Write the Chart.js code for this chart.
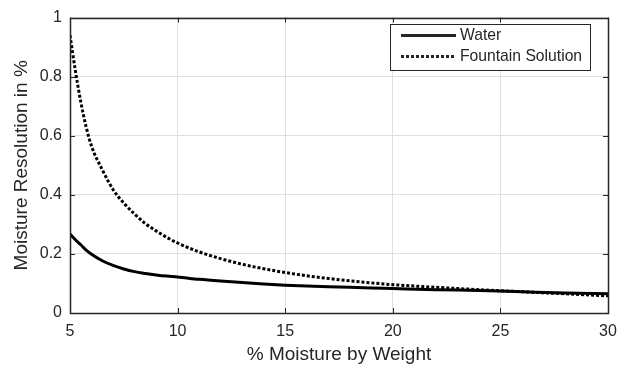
<!DOCTYPE html>
<html lang="en">
<head>
    <meta charset="UTF-8">
    <title>Moisture Resolution</title>
    <script src="https://cdn.jsdelivr.net/npm/chart.js"></script>
    <style>
        html, body { margin: 0; padding: 0; background: #fff; }
        #wrap { width: 632px; height: 372px; }
    </style>
</head>
<body>
    <div id="wrap"><canvas id="moistureChart" width="632" height="372"></canvas></div>

    <script>
        // % moisture by weight (x) and the resolution
        const moisture = [5, 5.25, 5.5, 5.75, 6, 6.5, 7, 7.5, 8, 8.5, 9, 9.5, 10, 11, 12, 13, 14, 15, 16, 17, 18, 19, 20, 22, 24, 26, 28, 30];
        const water = [0.267, 0.248, 0.231, 0.213, 0.199, 0.177, 0.161, 0.149, 0.140, 0.134, 0.129, 0.125, 0.122, 0.114, 0.108, 0.103, 0.098, 0.094, 0.091, 0.089, 0.087, 0.085, 0.083, 0.079, 0.076, 0.072, 0.068, 0.065];
        const fountain = [0.94, 0.82, 0.715, 0.63, 0.565, 0.485, 0.418, 0.372, 0.335, 0.303, 0.278, 0.256, 0.237, 0.207, 0.184, 0.165, 0.150, 0.137, 0.126, 0.117, 0.109, 0.102, 0.096, 0.087, 0.079, 0.072, 0.065, 0.058];
        const seriesNames = ['Water', 'Fountain Solution'];
        const xTicks = [5, 10, 15, 20, 25, 30];
        const yTicks = [0, 0.2, 0.4, 0.6, 0.8, 1];

        const ink = '#262626';
        const fontFamily = 'Arial, "Liberation Sans", Helvetica, sans-serif';

        function pts(ys) {
            return moisture.map((x, i) => ({ x: x, y: ys[i] }));
        }

        // MATLAB-ish box, inward ticks and an inset legend
        const axesBox = {
            id: 'axesBox',
            afterDraw(chart) {
                const ctx = chart.ctx;
                const a = chart.chartArea;
                const xs = chart.scales.x, ys = chart.scales.y;
                const tl = 5;
                ctx.save();
                ctx.strokeStyle = ink;
                ctx.lineWidth = 1;
                ctx.beginPath();
                xTicks.forEach(v => {
                    const px = Math.round(xs.getPixelForValue(v)) + 0.5;
                    ctx.moveTo(px, a.bottom); ctx.lineTo(px, a.bottom - tl);
                    ctx.moveTo(px, a.top); ctx.lineTo(px, a.top + tl);
                });
                yTicks.forEach(v => {
                    const py = Math.round(ys.getPixelForValue(v)) + 0.5;
                    ctx.moveTo(a.left, py); ctx.lineTo(a.left + tl, py);
                    ctx.moveTo(a.right, py); ctx.lineTo(a.right - tl, py);
                });
                ctx.stroke();
                ctx.lineWidth = 1.5;
                ctx.strokeRect(Math.round(a.left) + 0.5, Math.round(a.top) + 0.5,
                    Math.round(a.right - a.left), Math.round(a.bottom - a.top));

                // legend
                const lx = 390.5, ly = 24.5, lw = 200, lh = 46;
                ctx.fillStyle = '#fff';
                ctx.fillRect(lx, ly, lw, lh);
                ctx.lineWidth = 1;
                ctx.strokeRect(lx, ly, lw, lh);
                const rows = [35.5, 56.5];
                chart.data.datasets.forEach((ds, i) => {
                    ctx.beginPath();
                    ctx.lineWidth = ds.borderWidth;
                    ctx.setLineDash(ds.borderDash || []);
                    ctx.lineCap = 'butt';
                    ctx.moveTo(401, rows[i]);
                    ctx.lineTo(456, rows[i]);
                    ctx.stroke();
                    ctx.setLineDash([]);
                    ctx.fillStyle = ink;
                    ctx.font = '15.7px ' + fontFamily;
                    ctx.textBaseline = 'middle';
                    ctx.textAlign = 'left';
                    ctx.fillText(ds.label, 460, rows[i] + 0.5);
                });
                ctx.restore();
            }
        };

        const ctx = document.getElementById('moistureChart').getContext('2d');
        new Chart(ctx, {
            type: 'line',
            data: {
                datasets: [{
                    label: seriesNames[0],
                    data: pts(water),
                    borderColor: '#000',
                    borderWidth: 3,
                    pointRadius: 0,
                    cubicInterpolationMode: 'monotone',
                    fill: false
                }, {
                    label: seriesNames[1],
                    data: pts(fountain),
                    borderColor: '#000',
                    borderWidth: 3,
                    borderDash: [3, 2],
                    pointRadius: 0,
                    cubicInterpolationMode: 'monotone',
                    fill: false
                }]
            },
            options: {
                responsive: false,
                animation: false,
                events: [],
                layout: { padding: { top: 7, right: 24, left: 0, bottom: 0 } },
                plugins: { legend: { display: false }, tooltip: { enabled: false } },
                scales: {
                    x: {
                        type: 'linear',
                        min: 5, max: 30,
                        afterBuildTicks: s => { s.ticks = xTicks.map(v => ({ value: v })); },
                        afterFit: s => { s.height = 59; },
                        grid: { color: '#dfdfdf', drawTicks: false },
                        border: { display: false },
                        ticks: { color: ink, font: { family: fontFamily, size: 16 }, padding: 9, maxRotation: 0 },
                        title: { display: true, text: '% Moisture by Weight', color: ink, font: { family: fontFamily, size: 19 }, padding: { top: 0, bottom: 6 } }
                    },
                    y: {
                        min: 0, max: 1,
                        afterBuildTicks: s => { s.ticks = yTicks.map(v => ({ value: v })); },
                        afterFit: s => { s.width = 70; },
                        grid: { color: '#dfdfdf', drawTicks: false },
                        border: { display: false },
                        ticks: {
                            color: ink, font: { family: fontFamily, size: 16 }, padding: 8,
                            callback: v => String(+v.toFixed(1))
                        },
                        title: { display: true, text: 'Moisture Resolution in %', color: ink, font: { family: fontFamily, size: 19 }, padding: { top: 10, bottom: 0 } }
                    }
                }
            },
            plugins: [axesBox]
        });
    </script>
</body>
</html>
